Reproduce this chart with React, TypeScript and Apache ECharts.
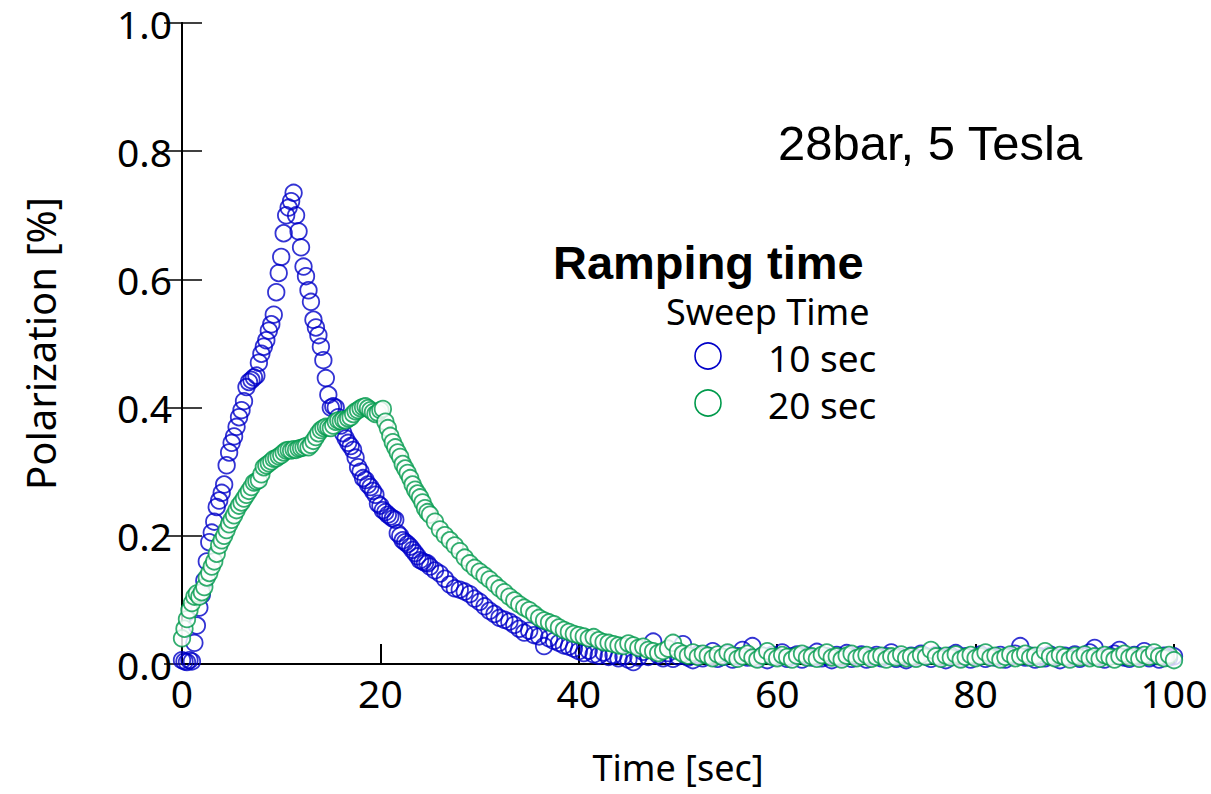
import React, { useEffect, useRef } from "react";
import * as echarts from "echarts";

// Sample times (sec): 0.25 s steps up to 25 s, then 0.5 s steps
const timeSec = [
  0, 0.25, 0.5, 0.75, 1, 1.25, 1.5, 1.75,
  2, 2.25, 2.5, 2.75, 3, 3.25, 3.5, 3.75,
  4, 4.25, 4.5, 4.75, 5, 5.25, 5.5, 5.75,
  6, 6.25, 6.5, 6.75, 7, 7.25, 7.5, 7.75,
  8, 8.25, 8.5, 8.75, 9, 9.25, 9.5, 9.75,
  10, 10.25, 10.5, 10.75, 11, 11.25, 11.5, 11.75,
  12, 12.25, 12.5, 12.75, 13, 13.25, 13.5, 13.75,
  14, 14.25, 14.5, 14.75, 15, 15.25, 15.5, 15.75,
  16, 16.25, 16.5, 16.75, 17, 17.25, 17.5, 17.75,
  18, 18.25, 18.5, 18.75, 19, 19.25, 19.5, 19.75,
  20, 20.25, 20.5, 20.75, 21, 21.25, 21.5, 21.75,
  22, 22.25, 22.5, 22.75, 23, 23.25, 23.5, 23.75,
  24, 24.25, 24.5, 24.75, 25,
  25.5, 26, 26.5, 27, 27.5, 28, 28.5, 29, 29.5,
  30, 30.5, 31, 31.5, 32, 32.5, 33, 33.5, 34, 34.5,
  35, 35.5, 36, 36.5, 37, 37.5, 38, 38.5, 39, 39.5,
  40, 40.5, 41, 41.5, 42, 42.5, 43, 43.5, 44, 44.5,
  45, 45.5, 46, 46.5, 47, 47.5, 48, 48.5, 49, 49.5,
  50, 50.5, 51, 51.5, 52, 52.5, 53, 53.5, 54, 54.5,
  55, 55.5, 56, 56.5, 57, 57.5, 58, 58.5, 59, 59.5,
  60, 60.5, 61, 61.5, 62, 62.5, 63, 63.5, 64, 64.5,
  65, 65.5, 66, 66.5, 67, 67.5, 68, 68.5, 69, 69.5,
  70, 70.5, 71, 71.5, 72, 72.5, 73, 73.5, 74, 74.5,
  75, 75.5, 76, 76.5, 77, 77.5, 78, 78.5, 79, 79.5,
  80, 80.5, 81, 81.5, 82, 82.5, 83, 83.5, 84, 84.5,
  85, 85.5, 86, 86.5, 87, 87.5, 88, 88.5, 89, 89.5,
  90, 90.5, 91, 91.5, 92, 92.5, 93, 93.5, 94, 94.5,
  95, 95.5, 96, 96.5, 97, 97.5, 98, 98.5, 99, 99.5,
  100,
];

// Polarization [%], sweep time 10 sec
const sweep10 = [
  0.006, 0.004, 0.003, 0.006, 0.004, 0.033, 0.06, 0.088,
  0.108, 0.13, 0.16, 0.19, 0.205, 0.222, 0.245, 0.255,
  0.267, 0.28, 0.31, 0.33, 0.345, 0.355, 0.37, 0.385,
  0.396, 0.41, 0.432, 0.44, 0.443, 0.447, 0.45, 0.47,
  0.484, 0.495, 0.505, 0.52, 0.53, 0.545, 0.58, 0.61,
  0.635, 0.672, 0.7, 0.712, 0.722, 0.735, 0.7, 0.675,
  0.65, 0.62, 0.605, 0.583, 0.565, 0.537, 0.525, 0.513,
  0.495, 0.474, 0.446, 0.42, 0.4, 0.402, 0.4, 0.385,
  0.372, 0.36, 0.352, 0.345, 0.34, 0.334, 0.322, 0.307,
  0.3, 0.29, 0.287, 0.28, 0.276, 0.27, 0.264, 0.25,
  0.247, 0.24, 0.237, 0.233, 0.23, 0.227, 0.225, 0.204,
  0.2, 0.193, 0.19, 0.187, 0.183, 0.178, 0.173, 0.168,
  0.162, 0.16, 0.158, 0.157, 0.152,
  0.146, 0.141, 0.133, 0.124, 0.118, 0.116, 0.113, 0.109, 0.102,
  0.097, 0.09, 0.083, 0.078, 0.072, 0.069, 0.066, 0.061, 0.055, 0.049,
  0.052, 0.045, 0.043, 0.028, 0.04, 0.036, 0.033, 0.029, 0.027, 0.024,
  0.02, 0.017, 0.021, 0.015, 0.013, 0.018, 0.011, 0.014, 0.009, 0.012,
  0.007, 0.003, 0.01, 0.019, 0.011, 0.035, 0.014, 0.009, 0.017, 0.008,
  0.012, 0.031, 0.01, 0.006, 0.015, 0.009, 0.013, 0.02, 0.008, 0.011,
  0.016, 0.007, 0.012, 0.022, 0.01, 0.028, 0.009, 0.013, 0.006, 0.014,
  0.011, 0.018, 0.008, 0.012, 0.015, 0.007, 0.013, 0.01, 0.019, 0.009,
  0.012, 0.006, 0.014, 0.01, 0.017, 0.008, 0.012, 0.015, 0.007, 0.011,
  0.014, 0.009, 0.012, 0.018, 0.008, 0.011, 0.006, 0.013, 0.01, 0.016,
  0.012, 0.008, 0.014, 0.01, 0.006, 0.013, 0.017, 0.009, 0.012, 0.007,
  0.011, 0.015, 0.008, 0.012, 0.01, 0.014, 0.007, 0.012, 0.016, 0.028,
  0.01, 0.013, 0.007, 0.012, 0.009, 0.015, 0.011, 0.006, 0.013, 0.01,
  0.015, 0.008, 0.012, 0.018, 0.025, 0.011, 0.007, 0.013, 0.016, 0.022,
  0.01, 0.008, 0.014, 0.011, 0.02, 0.009, 0.012, 0.007, 0.013, 0.01,
  0.012,
];

// Polarization [%], sweep time 20 sec
const sweep20 = [
  0.04, 0.055, 0.07, 0.084, 0.095, 0.105, 0.11, 0.105,
  0.112, 0.12, 0.135, 0.142, 0.152, 0.16, 0.172, 0.185,
  0.193, 0.2, 0.209, 0.218, 0.225, 0.232, 0.24, 0.247,
  0.252, 0.258, 0.264, 0.27, 0.276, 0.283, 0.285, 0.287,
  0.296, 0.307, 0.31, 0.313, 0.316, 0.32, 0.321, 0.324,
  0.326, 0.33, 0.333, 0.334, 0.333, 0.335, 0.334, 0.336,
  0.337, 0.338, 0.34, 0.338, 0.342, 0.348, 0.354, 0.36,
  0.365, 0.368, 0.37, 0.369, 0.368, 0.372, 0.378, 0.38,
  0.379, 0.381, 0.38, 0.383, 0.385, 0.39, 0.394, 0.396,
  0.399, 0.401, 0.402, 0.399, 0.396, 0.393, 0.39, 0.392,
  0.396, 0.398, 0.378, 0.368, 0.356, 0.346, 0.338, 0.33,
  0.323, 0.312, 0.305, 0.298, 0.29, 0.28, 0.272, 0.266,
  0.26, 0.252, 0.243, 0.237, 0.233,
  0.222, 0.21, 0.201, 0.193, 0.185, 0.176, 0.166, 0.157, 0.15,
  0.144, 0.138, 0.132, 0.125, 0.118, 0.112, 0.105, 0.099, 0.093, 0.088,
  0.084, 0.078, 0.072, 0.068, 0.065, 0.062, 0.057, 0.053, 0.05, 0.047,
  0.045, 0.043, 0.04, 0.042, 0.037, 0.034, 0.033, 0.031, 0.029, 0.028,
  0.032, 0.029, 0.025, 0.027, 0.022, 0.02, 0.017, 0.02, 0.024, 0.033,
  0.02, 0.016, 0.013, 0.018, 0.011, 0.016, 0.013, 0.009, 0.015, 0.011,
  0.018, 0.013, 0.008, 0.012, 0.016, 0.01, 0.007, 0.013, 0.02, 0.011,
  0.009, 0.014, 0.011, 0.007, 0.013, 0.016, 0.01, 0.012, 0.008, 0.014,
  0.018, 0.01, 0.012, 0.007, 0.013, 0.016, 0.009, 0.012, 0.014, 0.008,
  0.011, 0.013, 0.007, 0.012, 0.01, 0.015, 0.009, 0.012, 0.008, 0.014,
  0.011, 0.022, 0.012, 0.008, 0.013, 0.01, 0.015, 0.007, 0.011, 0.014,
  0.009, 0.012, 0.018, 0.01, 0.013, 0.007, 0.011, 0.015, 0.009, 0.012,
  0.016, 0.01, 0.013, 0.008, 0.02, 0.012, 0.009, 0.014, 0.011, 0.007,
  0.013, 0.01, 0.015, 0.009, 0.012, 0.008, 0.014, 0.011, 0.007, 0.012,
  0.016, 0.01, 0.013, 0.008, 0.014, 0.011, 0.018, 0.012, 0.009, 0.014,
  0.006,
];

const xTicks = [0, 20, 40, 60, 80, 100];
const legendLabels = ["10 sec", "20 sec"];
const BLUE = "#0000c8";
const GREEN = "#009a4c";
const LABEL_FONT = '"Noto Sans", "Noto Sans CJK JP", sans-serif';
const SANS = '"Liberation Sans", Arial, sans-serif';
const TICK_SIZE = 39;

const toPairs = (ys: number[]) => ys.map((y, i) => [timeSec[i], y]);

export default function App() {
  const ref = useRef<HTMLDivElement>(null);

  useEffect(() => {
    if (!ref.current) return;
    const chart = echarts.init(ref.current, null, { renderer: "svg" });

    const grid = { left: 182, top: 23, width: 992, height: 641 };
    const gx = (t: number) => grid.left + (t / 100) * grid.width;

    // Free-standing text with a line box no taller than its font size
    const text = (
      x: number,
      y: number,
      s: string,
      size: number,
      family: string,
      weight = "normal",
      align = "left"
    ) => ({
      type: "text",
      silent: true,
      style: {
        x,
        y,
        text: s,
        fontSize: size,
        fontFamily: family,
        fontWeight: weight,
        lineHeight: size,
        fill: "#000",
        textAlign: align,
        textVerticalAlign: "middle",
      },
    });

    chart.setOption({
      animation: false,
      backgroundColor: "#ffffff",
      grid: { ...grid, containLabel: false },
      xAxis: [
        {
          type: "value",
          min: xTicks[0],
          max: xTicks[xTicks.length - 1],
          interval: 20,
          position: "bottom",
          axisLine: { show: true, lineStyle: { color: "#000", width: 2 } },
          axisTick: { show: true, inside: true, length: 20, lineStyle: { color: "#000", width: 2 } },
          axisLabel: { color: "#000", fontSize: TICK_SIZE, fontFamily: LABEL_FONT, margin: 9 },
          splitLine: { show: false },
        },
        {
          type: "value",
          min: 0,
          max: 100,
          interval: 20,
          position: "top",
          axisLine: { show: true, lineStyle: { color: "#000", width: 1.5 } },
          axisTick: { show: false },
          axisLabel: { show: false },
          splitLine: { show: false },
        },
      ],
      yAxis: [
        {
          type: "value",
          min: 0,
          max: 1,
          interval: 0.2,
          position: "left",
          axisLine: { show: true, lineStyle: { color: "#000", width: 2 } },
          axisTick: { show: true, inside: true, length: 20, lineStyle: { color: "#000", width: 1.5 } },
          axisLabel: {
            color: "#000",
            fontSize: TICK_SIZE,
            fontFamily: LABEL_FONT,
            margin: 10,
            formatter: (v: number) => v.toFixed(1),
          },
          splitLine: { show: false },
        },
        {
          type: "value",
          min: 0,
          max: 1,
          interval: 0.2,
          position: "right",
          axisLine: { show: true, lineStyle: { color: "#000", width: 2 } },
          axisTick: { show: true, inside: true, length: 18, lineStyle: { color: "#000", width: 1.5 } },
          axisLabel: { show: false },
          splitLine: { show: false },
        },
      ],
      series: [
        {
          name: legendLabels[0],
          type: "scatter",
          data: toPairs(sweep10),
          symbol: "circle",
          symbolSize: 16.5,
          silent: true,
          itemStyle: { color: "rgba(0,0,0,0)", borderColor: BLUE, borderWidth: 1.8 },
        },
        {
          name: legendLabels[1],
          type: "scatter",
          data: toPairs(sweep20),
          symbol: "circle",
          symbolSize: 16.5,
          silent: true,
          itemStyle: { color: "#ffffff", borderColor: GREEN, borderWidth: 1.8 },
        },
      ],
      graphic: [
        {
          ...text(40, grid.top + grid.height / 2, "Polarization [%]", 40, LABEL_FONT, "normal", "center"),
          rotation: Math.PI / 2,
          originX: 40,
          originY: grid.top + grid.height / 2,
        },
        text(gx(50), 767, "Time [sec]", 36, LABEL_FONT, "normal", "center"),
        text(778, 143, "28bar, 5 Tesla", 49, SANS),
        text(553, 262, "Ramping time", 47, SANS, "bold"),
        text(666, 311, "Sweep Time", 36, LABEL_FONT),
        {
          type: "circle",
          silent: true,
          shape: { cx: 708, cy: 356, r: 13 },
          style: { fill: "rgba(0,0,0,0)", stroke: BLUE, lineWidth: 1.6 },
        },
        text(768, 357, legendLabels[0], 37, LABEL_FONT),
        {
          type: "circle",
          silent: true,
          shape: { cx: 708, cy: 403, r: 13 },
          style: { fill: "#ffffff", stroke: GREEN, lineWidth: 1.6 },
        },
        text(768, 404, legendLabels[1], 37, LABEL_FONT),
      ],
    });

    return () => chart.dispose();
  }, []);

  return (
    <div
      ref={ref}
      style={{ position: "absolute", left: 0, top: 0, width: 1211, height: 794, background: "#fff" }}
    />
  );
}
